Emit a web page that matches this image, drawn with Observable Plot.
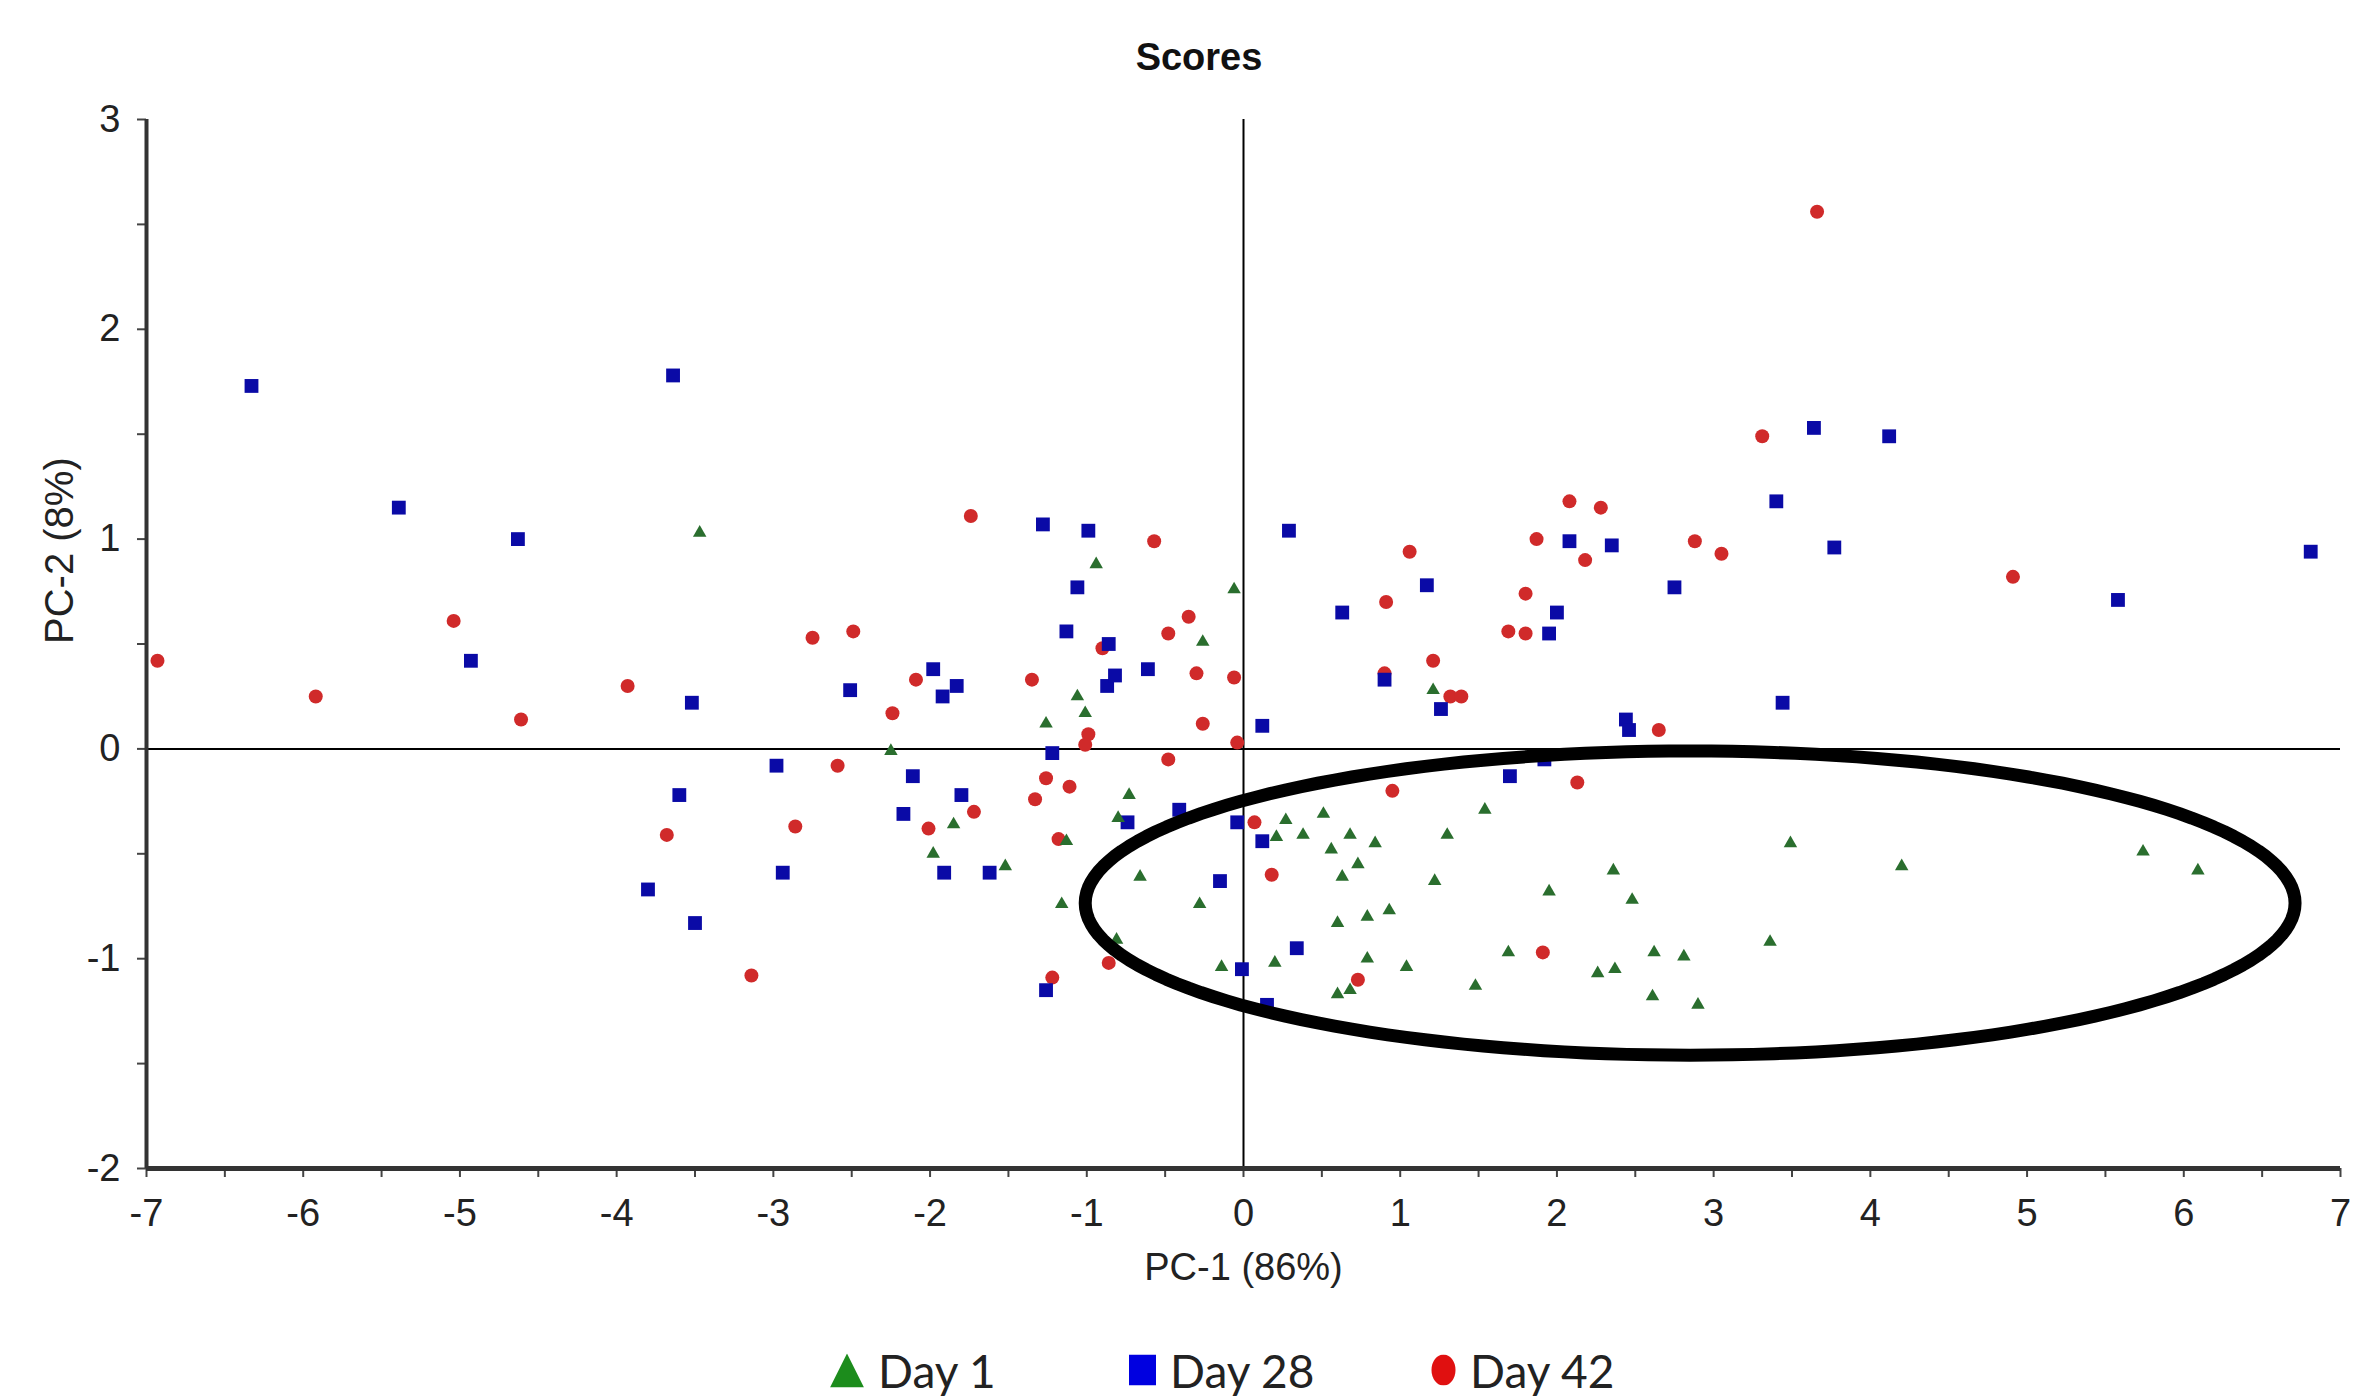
<!DOCTYPE html>
<html><head><meta charset="utf-8">
<script src="https://cdn.jsdelivr.net/npm/d3@7"></script>
<script src="https://cdn.jsdelivr.net/npm/@observablehq/plot@0.6"></script>
<style>
html,body{margin:0;padding:0;background:#fff;}
#wrap{position:relative;width:2356px;height:1398px;overflow:hidden;font-family:"Liberation Sans",Arial,sans-serif;}
#title{position:absolute;left:1199px;top:57px;transform:translate(-50%,-50%);font-weight:bold;font-size:38px;color:#111;white-space:nowrap;}
#chart{position:absolute;left:0;top:80px;}
.leg{position:absolute;top:1370px;transform:translateY(-50%);display:flex;align-items:center;font-family:Lato,"Open Sans",sans-serif;font-size:46px;color:#222;white-space:nowrap;}
.leg svg{margin-right:14px;}
</style></head>
<body><div id="wrap"><div id="title"></div><div id="chart"></div></div>
<script>
const titleText = "Scores";
const xLabel = "PC-1 (86%)";
const yLabel = "PC-2 (8%)";
const seriesNames = ["Day 1", "Day 28", "Day 42"];
const xTicks = [-7,-6,-5,-4,-3,-2,-1,0,1,2,3,4,5,6,7];
const yTicks = [-2,-1,0,1,2,3];

// Day 1 (green triangles): [PC-1, PC-2]
const day1 = [[-3.47,1.03],[-2.25,-0.01],[-1.98,-0.50],[-1.85,-0.36],[-1.52,-0.56],[-1.26,0.12],[-1.06,0.25],[-1.01,0.17],[-0.94,0.88],[-1.13,-0.44],[-1.16,-0.74],[-0.80,-0.33],[-0.73,-0.22],[-0.66,-0.61],[-0.81,-0.91],[-0.28,-0.74],[-0.26,0.51],[-0.06,0.76],[-0.14,-1.04],[0.20,-1.02],[0.27,-0.34],[0.21,-0.42],[0.38,-0.41],[0.51,-0.31],[0.56,-0.48],[0.68,-0.41],[0.84,-0.45],[0.73,-0.55],[0.63,-0.61],[0.60,-0.83],[0.79,-0.80],[0.93,-0.77],[0.79,-1.00],[1.04,-1.04],[0.60,-1.17],[0.68,-1.15],[1.21,0.28],[1.30,-0.41],[1.22,-0.63],[1.54,-0.29],[1.48,-1.13],[1.69,-0.97],[1.95,-0.68],[2.36,-0.58],[2.48,-0.72],[2.26,-1.07],[2.37,-1.05],[2.62,-0.97],[2.81,-0.99],[2.61,-1.18],[2.90,-1.22],[3.36,-0.92],[3.49,-0.45],[4.20,-0.56],[5.74,-0.49],[6.09,-0.58]];

// Day 28 (blue squares)
const day28 = [[-6.33,1.73],[-5.39,1.15],[-4.63,1.00],[-4.93,0.42],[-3.64,1.78],[-3.52,0.22],[-3.60,-0.22],[-3.80,-0.67],[-3.50,-0.83],[-2.98,-0.08],[-2.94,-0.59],[-2.51,0.28],[-1.98,0.38],[-1.92,0.25],[-1.83,0.30],[-2.11,-0.13],[-2.17,-0.31],[-1.80,-0.22],[-1.91,-0.59],[-1.62,-0.59],[-1.28,1.07],[-0.99,1.04],[-1.06,0.77],[-1.13,0.56],[-0.86,0.50],[-0.87,0.30],[-0.82,0.35],[-0.61,0.38],[-1.22,-0.02],[-0.74,-0.35],[-0.41,-0.29],[-1.26,-1.15],[-0.15,-0.63],[-0.04,-0.35],[-0.01,-1.05],[0.12,0.11],[0.12,-0.44],[0.15,-1.22],[0.34,-0.95],[0.29,1.04],[0.63,0.65],[0.90,0.33],[1.17,0.78],[1.26,0.19],[1.70,-0.13],[1.92,-0.05],[1.95,0.55],[2.00,0.65],[2.08,0.99],[2.35,0.97],[2.44,0.14],[2.46,0.09],[2.75,0.77],[3.40,1.18],[3.64,1.53],[3.77,0.96],[3.44,0.22],[4.12,1.49],[5.58,0.71],[6.81,0.94]];

// Day 42 (red circles)
const day42 = [[-6.93,0.42],[-5.92,0.25],[-5.04,0.61],[-4.61,0.14],[-3.93,0.30],[-3.68,-0.41],[-3.14,-1.08],[-2.75,0.53],[-2.49,0.56],[-2.59,-0.08],[-2.86,-0.37],[-2.24,0.17],[-2.09,0.33],[-2.01,-0.38],[-1.72,-0.30],[-1.74,1.11],[-1.35,0.33],[-1.26,-0.14],[-1.11,-0.18],[-1.33,-0.24],[-1.18,-0.43],[-1.22,-1.09],[-0.99,0.07],[-1.01,0.02],[-0.90,0.48],[-0.86,-1.02],[-0.57,0.99],[-0.48,0.55],[-0.35,0.63],[-0.30,0.36],[-0.26,0.12],[-0.06,0.34],[-0.04,0.03],[-0.48,-0.05],[0.07,-0.35],[0.18,-0.60],[0.73,-1.10],[0.95,-0.20],[0.91,0.70],[0.90,0.36],[1.06,0.94],[1.21,0.42],[1.32,0.25],[1.39,0.25],[1.69,0.56],[1.80,0.55],[1.80,0.74],[1.87,1.00],[1.91,-0.97],[2.08,1.18],[2.18,0.90],[2.28,1.15],[2.13,-0.16],[2.65,0.09],[2.88,0.99],[3.05,0.93],[3.31,1.49],[3.66,2.56],[4.91,0.82]];

// Hand-drawn ellipse annotation: centre and radii in data units
const ellipseCenter = [2.85, -0.735];
const ellipseRadii = [3.86, 0.725];

const toRows = (arr, s) => arr.map(([x, y]) => ({x, y, s}));
const g = toRows(day1, seriesNames[0]);
const b = toRows(day28, seriesNames[1]);
const r = toRows(day42, seriesNames[2]);
const ellipsePts = d3.range(0, 360, 2).map(a => {
  const t = a * Math.PI / 180;
  return {x: ellipseCenter[0] + ellipseRadii[0] * Math.cos(t), y: ellipseCenter[1] + ellipseRadii[1] * Math.sin(t)};
});

const half = (lo, hi) => d3.range(lo * 2, hi * 2 + 1).map(v => v / 2);
const fmt = d => (Number.isInteger(d) ? String(d) : "");

const chart = Plot.plot({
  width: 2356, height: 1230,
  marginLeft: 146, marginRight: 16, marginTop: 39, marginBottom: 142,
  style: {fontFamily: '"Liberation Sans", Arial, sans-serif', fontSize: "38px", color: "#222", background: "#fff"},
  x: {domain: [xTicks[0], xTicks[xTicks.length - 1]]},
  y: {domain: [yTicks[0], yTicks[yTicks.length - 1]]},
  marks: [
    Plot.axisX({ticks: half(xTicks[0], xTicks[xTicks.length - 1]), tickFormat: fmt, tickSize: 9, tickPadding: 22, label: null, stroke: "#444", strokeWidth: 2}),
    Plot.axisY({ticks: half(yTicks[0], yTicks[yTicks.length - 1]), tickFormat: fmt, tickSize: 9, tickPadding: 17, label: null, stroke: "#444", strokeWidth: 2}),
    Plot.ruleX([0], {stroke: "#000", strokeWidth: 2}),
    Plot.ruleY([0], {stroke: "#000", strokeWidth: 2}),
    Plot.ruleX([xTicks[0]], {stroke: "#333", strokeWidth: 4}),
    Plot.ruleY([yTicks[0]], {stroke: "#333", strokeWidth: 5}),
    Plot.dot(r, {x: "x", y: "y", symbol: "circle", r: 7, fill: "#d02a2a"}),
    Plot.dot(b, {x: "x", y: "y", symbol: "square", r: 7.8, fill: "#0a0aa6"}),
    Plot.dot(g, {x: "x", y: "y", symbol: "triangle", r: 5, fill: "#2a6e2e"}),
    Plot.line(ellipsePts, {x: "x", y: "y", curve: "linear-closed", stroke: "#000", strokeWidth: 13, strokeLinejoin: "round"}),
    Plot.text([xLabel], {frameAnchor: "bottom", dy: 99, fontSize: 38, fill: "#222", lineAnchor: "middle"}),
    Plot.text([yLabel], {frameAnchor: "left", dx: -86, rotate: -90, fontSize: 40, fill: "#222", lineAnchor: "middle"})
  ]
});
document.getElementById("chart").appendChild(chart);
document.getElementById("title").textContent = titleText;

// legend below the chart
const legendItems = [
  {name: seriesNames[0], left: 830, shape: '<svg width="34" height="34"><polygon points="0,34 17,0 34,34" fill="#1c8c1c"/></svg>'},
  {name: seriesNames[1], left: 1129, shape: '<svg width="27" height="31"><rect x="0" y="0" width="27" height="31" fill="#0000e0"/></svg>'},
  {name: seriesNames[2], left: 1431, shape: '<svg width="25" height="31"><ellipse cx="12.5" cy="15.5" rx="12" ry="15.5" fill="#e01010"/></svg>'}
];
const wrap = document.getElementById("wrap");
legendItems.forEach(it => {
  const d = document.createElement("div");
  d.className = "leg";
  d.style.left = it.left + "px";
  d.innerHTML = it.shape + "<span>" + it.name + "</span>";
  wrap.appendChild(d);
});
</script></body></html>
